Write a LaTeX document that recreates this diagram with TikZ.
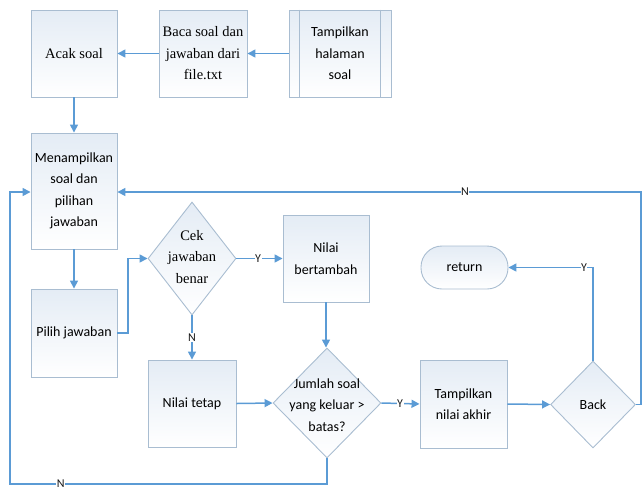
\documentclass[tikz,border=0pt]{standalone}
\usepackage{fontspec}
\setmainfont{Liberation Serif}
\newfontfamily\serfont{Liberation Serif}
\newfontfamily\calfont{Carlito}
\usetikzlibrary{arrows.meta,shapes.geometric,positioning,calc}
\definecolor{lineblue}{HTML}{5B9BD5}
\definecolor{bordergray}{HTML}{A9BDD1}
\definecolor{filltop}{HTML}{E4ECF5}
\tikzset{
  boxs/.style={draw=bordergray, line width=0.9pt, top color=filltop, bottom color=white, minimum width=#1, inner sep=0pt, align=center},
  dia/.style={diamond, draw=bordergray, line width=0.9pt, top color=filltop, bottom color=white, inner sep=0pt},
  sertxt/.style={font=\serfont\fontsize{14.5}{21.5}\selectfont, align=center},
  santxt/.style={font=\calfont\fontsize{14}{21.5}\selectfont, align=center},
  conn/.style={draw=lineblue, line width=1.5pt},
  arr/.style={conn, -{Triangle[width=8pt,length=8pt]}},
  lab/.style={font=\calfont\fontsize{12}{12}\selectfont, fill=white, inner sep=0.5pt, text=black!90}
}
\begin{document}
\begin{tikzpicture}[x=1pt,y=-1pt]
\useasboundingbox (0,0) rectangle (644,491);
% top row
\node[boxs=86pt, minimum height=87pt, sertxt] (acak) at (74,53.5) {Acak soal};
\node[boxs=88pt, minimum height=87pt, sertxt] (baca) at (203,53.5) {Baca soal dan\\jawaban dari\\file.txt};
\node[boxs=102pt, minimum height=87pt, santxt] (tamp) at (340,53.5) {Tampilkan\\halaman\\soal};
\draw[draw=bordergray, line width=0.9pt] ($(tamp.north west)+(11,0)$) -- ($(tamp.south west)+(11,0)$);
\draw[draw=bordergray, line width=0.9pt] ($(tamp.north east)+(-11,0)$) -- ($(tamp.south east)+(-11,0)$);
% left column
\node[boxs=86pt, minimum height=116pt, santxt] (menam) at (74,191) {Menampilkan\\soal dan\\pilihan\\jawaban};
\node[boxs=86pt, minimum height=88pt, santxt] (pilih) at (74,333) {Pilih jawaban};
% cek diamond
\node[dia, minimum width=88pt, minimum height=113pt] (cek) at (192,258.5) {};
\node[sertxt] (cektxt) at (192,257) {Cek\\jawaban\\benar};
\node[boxs=86pt, minimum height=87pt, santxt] (bert) at (326,258.5) {Nilai\\bertambah};
\node[boxs=88pt, minimum height=87pt, santxt] (tetap) at (192,403.5) {Nilai tetap};
\node[dia, minimum width=108pt, minimum height=110pt] (jumlah) at (327,403) {};
\node[santxt] (jumtxt) at (327,405) {Jumlah soal\\yang keluar >\\batas?};
\node[boxs=87pt, minimum height=88pt, santxt] (akhir) at (463.5,404) {Tampilkan\\nilai akhir};
\node[dia, minimum width=85pt, minimum height=87pt] (back) at (593,404.5) {};
\node[santxt] (backtxt) at (593,404.5) {Back};
\node[draw=bordergray, line width=0.9pt, top color=filltop, bottom color=white, rounded corners=21pt, minimum width=87pt, minimum height=43pt, inner sep=0pt, santxt] (ret) at (464.5,267.5) {return};
\coordinate (pj) at (128,333);
\coordinate (rb) at (641,404.5);
\coordinate (lb) at (10,484);
% connectors
\draw[arr] (tamp.west) -- (baca.east);
\draw[arr] (baca.west) -- (acak.east);
\draw[arr] (acak.south) -- (menam.north);
\draw[arr] (menam.south) -- (pilih.north);
\draw[arr] (pilih.east) -- (pj) |- (cek.west);
\draw[arr] (cek.east) -- node[lab, pos=0.47] (ly1) {Y} (bert.west);
\draw[arr] (cek.south) -- node[lab, pos=0.5] (ln1) {N} (tetap.north);
\draw[arr] (tetap.east) -- (jumlah.west);
\draw[arr] (bert.south) -- (bert.south |- jumlah.north);
\draw[arr] (jumlah.east) -- node[lab, pos=0.49] (ly2) {Y} (akhir.west);
\draw[arr] (akhir.east) -- (back.west);
\draw[arr] (back.north) |- node[lab, pos=0.553] (ly3) {Y} (ret.east);
\draw[arr] (back.east) -- (rb) |- node[lab, pos=0.668] (ln2) {N} ($(menam.east)+(0,1)$);
\draw[arr] (jumlah.south) |- node[lab, pos=0.92] (ln3) {N} (lb) |- ($(menam.west)+(0,1)$);
\end{tikzpicture}
\end{document}
